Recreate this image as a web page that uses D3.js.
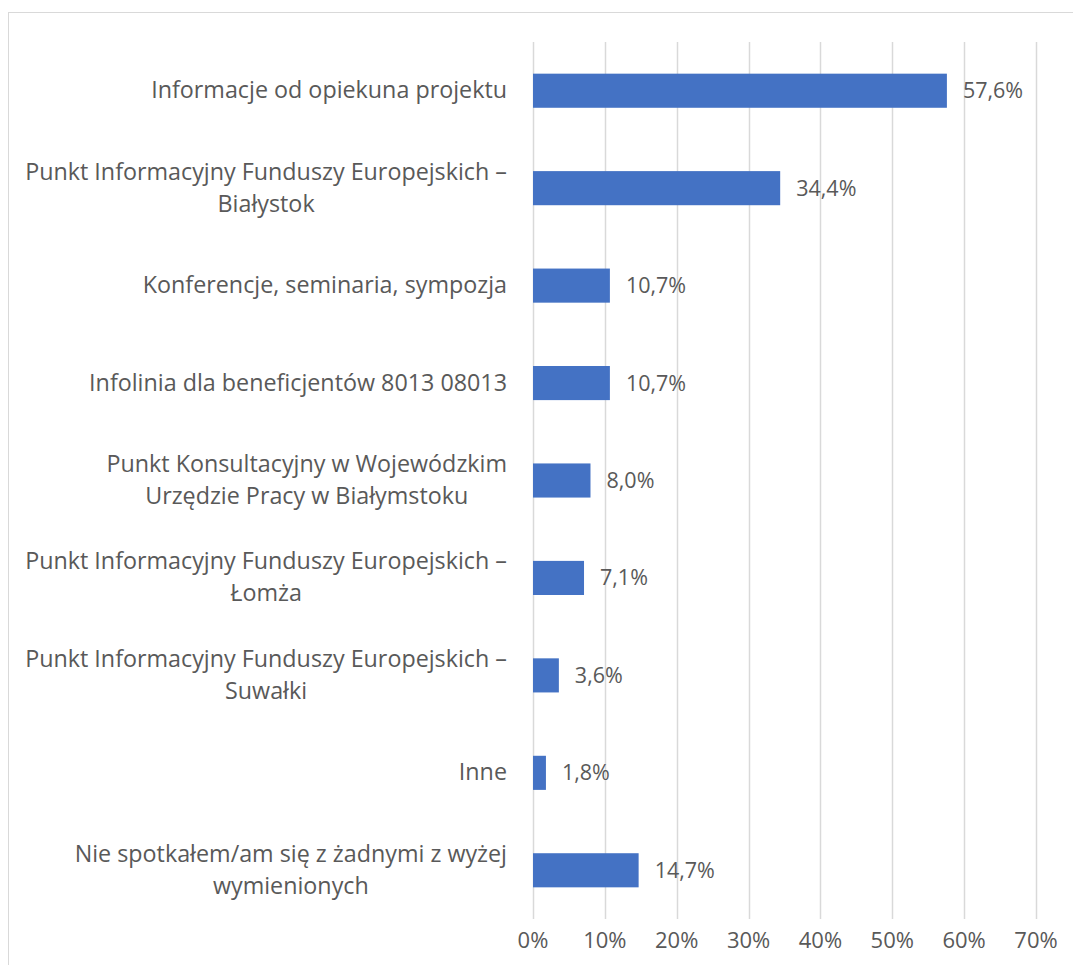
<!DOCTYPE html>
<html>
<head>
<meta charset="utf-8">
<script src="https://cdn.jsdelivr.net/npm/d3@7"></script>
<style>
  html, body { margin: 0; padding: 0; background: #fff; }
  svg { display: block; }
  text { font-family: "Open Sans", sans-serif; fill: #595959; }
</style>
</head>
<body>
<svg id="chart" width="1073" height="965"></svg>
<script>
// ---- data ----
const categories = [
  ["Informacje od opiekuna projektu"],
  ["Punkt Informacyjny Funduszy Europejskich –", "Białystok"],
  ["Konferencje, seminaria, sympozja"],
  ["Infolinia dla beneficjentów 8013 08013"],
  ["Punkt Konsultacyjny w Wojewódzkim", "Urzędzie Pracy w Białymstoku"],
  ["Punkt Informacyjny Funduszy Europejskich –", "Łomża"],
  ["Punkt Informacyjny Funduszy Europejskich –", "Suwałki"],
  ["Inne"],
  ["Nie spotkałem/am się z żadnymi z wyżej", "wymienionych"]
];
const values = [57.6, 34.4, 10.7, 10.7, 8.0, 7.1, 3.6, 1.8, 14.7];
const valueLabels = ["57,6%", "34,4%", "10,7%", "10,7%", "8,0%", "7,1%", "3,6%", "1,8%", "14,7%"];
const ticks = [0, 10, 20, 30, 40, 50, 60, 70];

// ---- layout ----
const svg = d3.select("#chart");
const plotLeft = 533, plotRight = 1036, plotTop = 42, plotBottom = 919;
const catFont = 23.3, valFont = 21.5, tickFont = 22;

// chart border
svg.append("rect")
  .attr("x", 8.5).attr("y", 12.5)
  .attr("width", 1100).attr("height", 1000)
  .attr("fill", "none").attr("stroke", "#d9d9d9").attr("stroke-width", 1);

const x = d3.scaleLinear().domain([0, 70]).range([plotLeft, plotRight]);
const y = d3.scaleBand().domain(d3.range(categories.length)).range([plotTop, plotBottom]).paddingInner(0.65).paddingOuter(0.325);
const yc = d3.scaleBand().domain(d3.range(categories.length)).range([plotTop, plotBottom]);

// gridlines
svg.append("g").selectAll("line").data(ticks).join("line")
  .attr("x1", d => Math.round(x(d)) + 0.5).attr("x2", d => Math.round(x(d)) + 0.5)
  .attr("y1", plotTop).attr("y2", plotBottom)
  .attr("stroke", "#d9d9d9").attr("stroke-width", 1.5);

// x axis tick labels
svg.append("g").selectAll("text").data(ticks).join("text")
  .attr("x", d => x(d)).attr("y", 948)
  .attr("text-anchor", "middle")
  .style("font-size", tickFont + "px")
  .text(d => d + "%");

// bars
svg.append("g").selectAll("rect").data(values).join("rect")
  .attr("x", x(0))
  .attr("y", (d, i) => y(i))
  .attr("width", d => x(d) - x(0))
  .attr("height", y.bandwidth())
  .attr("fill", "#4472c4");

// value labels
svg.append("g").selectAll("text").data(values).join("text")
  .attr("x", d => x(d) + 16)
  .attr("y", (d, i) => yc(i) + yc.bandwidth() / 2 + 7.5)
  .style("font-size", valFont + "px")
  .text((d, i) => valueLabels[i]);

// category labels
const labelRight = 507;
const lineH = 32;
const catG = svg.append("g");
categories.forEach((lines, i) => {
  const cy = yc(i) + yc.bandwidth() / 2;
  const g = catG.append("g");
  const texts = lines.map((ln, j) => g.append("text")
    .style("font-size", catFont + "px")
    .attr("y", cy + 7.5 + (j - (lines.length - 1) / 2) * lineH)
    .text(ln));
  const widths = texts.map(t => t.node().getComputedTextLength());
  const maxW = d3.max(widths);
  texts.forEach(t => t.attr("text-anchor", "middle").attr("x", labelRight - maxW / 2));
});
</script>
</body>
</html>
